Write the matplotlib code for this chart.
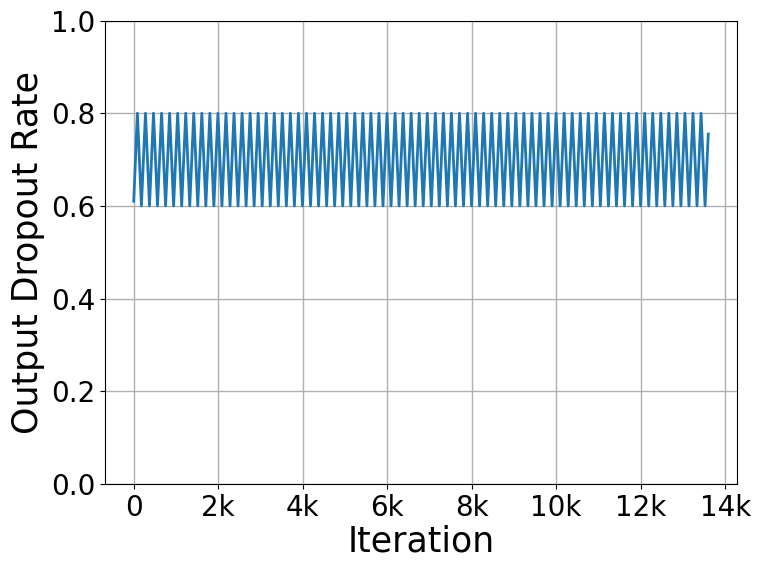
import matplotlib
matplotlib.use("Agg")
import matplotlib.pyplot as plt
from matplotlib.ticker import FuncFormatter

# Turning points of the schedule (iterations)
peak_iters = [87, 278, 468, 659, 849, 1040, 1231, 1421, 1612, 1802, 1993, 2184, 2374, 2565, 2755,
              2946, 3137, 3327, 3518, 3708, 3899, 4090, 4280, 4471, 4661, 4852, 5043, 5233, 5424,
              5614, 5805, 5996, 6186, 6377, 6567, 6758, 6949, 7139, 7330, 7520, 7711, 7902, 8092,
              8283, 8473, 8664, 8855, 9045, 9236, 9426, 9617, 9808, 9998, 10189, 10379, 10570,
              10761, 10951, 11142, 11332, 11523, 11714, 11904, 12095, 12285, 12476, 12667, 12857,
              13048, 13238, 13429]
trough_iters = [182, 373, 563, 754, 944, 1135, 1326, 1516, 1707, 1897, 2088, 2279, 2469, 2660, 2850,
                3041, 3232, 3422, 3613, 3803, 3994, 4185, 4375, 4566, 4756, 4947, 5138, 5328, 5519,
                5709, 5900, 6091, 6281, 6472, 6662, 6853, 7044, 7234, 7425, 7615, 7806, 7997, 8187,
                8378, 8568, 8759, 8950, 9140, 9331, 9521, 9712, 9903, 10093, 10284, 10474, 10665,
                10856, 11046, 11237, 11427, 11618, 11809, 11999, 12190, 12380, 12571, 12762, 12952,
                13143, 13333, 13524]
peak_value = 0.8
trough_value = 0.6
start_point = (0, 0.61)
end_point = (13600, 0.755)

xs = [start_point[0]]
ys = [start_point[1]]
for p, t in zip(peak_iters, trough_iters):
    xs += [p, t]
    ys += [peak_value, trough_value]
xs.append(end_point[0])
ys.append(end_point[1])

fig = plt.figure(figsize=(7.61, 5.70), dpi=100)
ax = fig.add_axes([105/761, 1-484/570, (737-105)/761, (484-20.5)/570])
ax.plot(xs, ys, color="#1f77b4", linewidth=2)
ax.set_ylim(0, 1.0)
ax.set_xticks([0, 2000, 4000, 6000, 8000, 10000, 12000, 14000])
ax.xaxis.set_major_formatter(FuncFormatter(lambda v, pos: "0" if v == 0 else f"{int(v/1000)}k"))
ax.set_yticks([0.0, 0.2, 0.4, 0.6, 0.8, 1.0])
ax.grid(True, color="#b0b0b0", linewidth=1)
ax.tick_params(labelsize=20)
ax.set_xlabel("Iteration", fontsize=25, labelpad=2)
ax.set_ylabel("Output Dropout Rate", fontsize=25, labelpad=4)
fig.savefig("out.png", dpi=100)
